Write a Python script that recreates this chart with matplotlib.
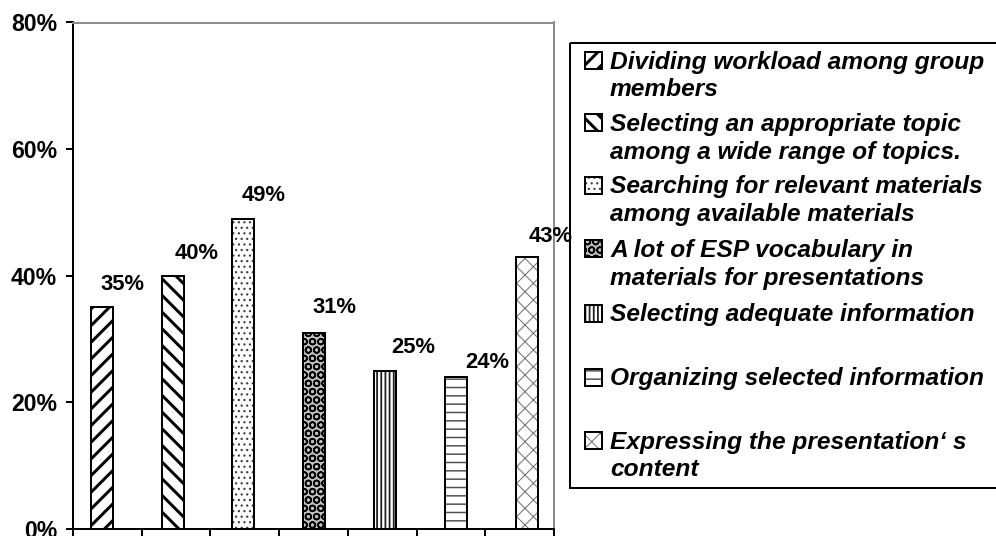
import matplotlib
matplotlib.use('Agg')
import matplotlib.pyplot as plt
from matplotlib.patches import Rectangle

# everything below is laid out in pixels
DPI = 100
W, H = 996, 536


def pt(px):
    return px * 72.0 / DPI


issues = [
    'Dividing workload among group\nmembers',
    'Selecting an appropriate topic\namong a wide range of topics.',
    'Searching for relevant materials\namong available materials',
    'A lot of ESP vocabulary in\nmaterials for presentations',
    'Selecting adequate information',
    'Organizing selected information',
    'Expressing the presentation\u2018 s\ncontent',
]
share = [35, 40, 49, 31, 25, 24, 43]
yticks = [0, 20, 40, 60, 80]

hatches      = ['//', '\\\\', '...', 'OO', '||||', '--', 'xx']
hatch_colors = ['black', 'black', '#404040', 'black', '#202020', '#505050', '#707070']
hatch_lw     = [3.0, 3.0, 1.2, 1.6, 1.8, 1.5, 1.0]
face_colors  = ['white', 'white', 'white', '#c0c0c0', 'white', 'white', 'white']

# value label offsets from the bar top (px right, px up)
label_off = [(21, 23), (24, 22), (20, 23), (20, 25), (28, 23), (32, 15), (24, 20)]

# legend rows: first-line centre in px from top
legend_rows = [60, 122, 185, 248, 313, 377, 440]
LINE = 28

plt.rcParams['font.family'] = ['Liberation Sans', 'DejaVu Sans']
plt.rcParams['font.weight'] = 'bold'

fig = plt.figure(figsize=(W / DPI, H / DPI), dpi=DPI)
ax = fig.add_axes([73 / W, 1 - 529 / H, (554 - 73) / W, (529 - 22.5) / H])


def hatched_box(axis, x, y, w, h, i, **kw):
    """Hatched fill plus black outline, used for bars and legend keys."""
    with plt.rc_context({'hatch.linewidth': pt(hatch_lw[i])}):
        p = Rectangle((x, y), w, h, facecolor=face_colors[i], edgecolor=hatch_colors[i],
                      hatch=hatches[i], lw=0, **kw)
        if hasattr(p, 'set_hatch_linewidth'):
            p.set_hatch_linewidth(pt(hatch_lw[i]))
        axis.add_patch(p)
    axis.add_patch(Rectangle((x, y), w, h, fill=False, edgecolor='black', lw=pt(2), **kw))


n = len(share)
width = 0.32
centers = [0.42 + i * 1.03 for i in range(n)]
for i, v in enumerate(share):
    hatched_box(ax, centers[i] - width / 2, 0, width, v, i)
    ax.annotate(f'{v}%', xy=(centers[i], v), xytext=(pt(label_off[i][0]), pt(label_off[i][1])),
                textcoords='offset points', ha='center', va='center',
                fontsize=pt(22), fontweight='bold', annotation_clip=False)

ax.set_xlim(0, n)
ax.set_ylim(0, 80)
ax.set_xticks(range(n + 1))
ax.set_xticklabels([])
ax.set_yticks(yticks)
ax.set_yticklabels([f'{t}%' for t in yticks])
ax.tick_params(axis='both', direction='out', length=pt(7), width=pt(2), color='black')
ax.tick_params(axis='y', labelsize=pt(23), pad=pt(9))
for lbl in ax.get_yticklabels():
    lbl.set_fontweight('bold')
for side in ['left', 'bottom']:
    ax.spines[side].set_color('black')
    ax.spines[side].set_linewidth(pt(2))
for side in ['top', 'right']:
    ax.spines[side].set_color('#8c8c8c')
    ax.spines[side].set_linewidth(pt(2))

# legend drawn on a full-figure pixel overlay
lax = fig.add_axes([0, 0, 1, 1])
lax.set_xlim(0, W)
lax.set_ylim(H, 0)
lax.axis('off')
lax.add_patch(Rectangle((570, 43), 440, 445, fill=False, edgecolor='black',
                        lw=pt(2), clip_on=False))
for i, label in enumerate(issues):
    yc = legend_rows[i]
    hatched_box(lax, 585, yc - 8.5, 17, 17, i)
    for j, line in enumerate(label.split('\n')):
        lax.text(610, yc + j * LINE + 8.5, line, ha='left', va='baseline',
                 fontsize=pt(24.5), fontweight='bold', fontstyle='italic')

fig.savefig('out.png', dpi=DPI, facecolor='white')
